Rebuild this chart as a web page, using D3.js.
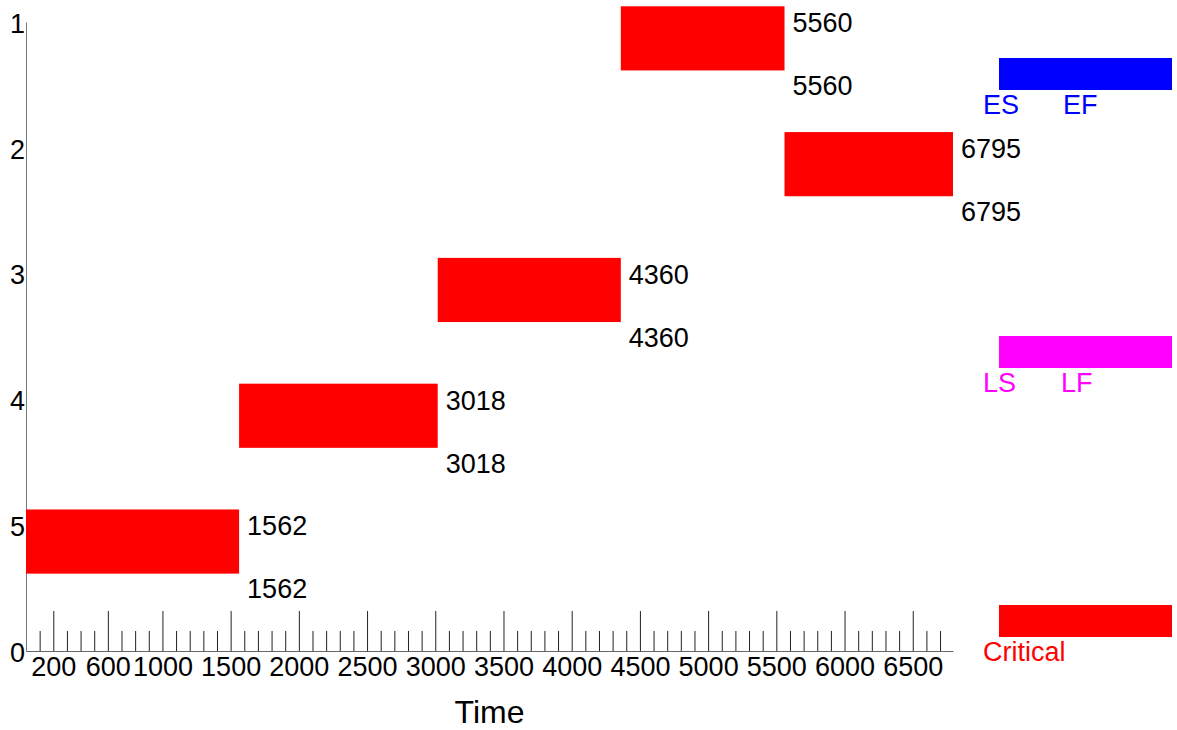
<!DOCTYPE html>
<html>
<head>
<meta charset="utf-8">
<script src="https://cdn.jsdelivr.net/npm/d3@7"></script>
<style>
  html, body { margin: 0; padding: 0; background: #fff; }
  svg { display: block; font-family: "Liberation Sans", Arial, sans-serif; }
</style>
</head>
<body>
<svg id="chart" width="1177" height="730"></svg>
<script>
// ---- data ----
const tasks = ["1", "2", "3", "4", "5"];
const earlyStart = [4360, 5560, 3018, 1562, 0];
const earlyFinish = [5560, 6795, 4360, 3018, 1562];
const lateStart = [4360, 5560, 3018, 1562, 0];
const lateFinish = [5560, 6795, 4360, 3018, 1562];
const critical = [true, true, true, true, true];
const rowOrder = ["0", "5", "4", "3", "2", "1"];
const majorTicks = [200, 600, 1000, 1500, 2000, 2500, 3000, 3500, 4000, 4500, 5000, 5500, 6000, 6500];
const minorTicks = d3.range(100, 6800, 100).filter(v => !majorTicks.includes(v));
const legendItems = [
  { color: "#0000ff", labels: ["ES", "EF"] },
  { color: "#ff00ff", labels: ["LS", "LF"] },
  { color: "#ff0000", labels: ["Critical"] }
];

// ---- layout ----
const svg = d3.select("#chart");
const FONT = 27;
const x = d3.scaleLinear().domain([0, 6795]).range([26, 953]);
const y = d3.scalePoint().domain(rowOrder).range([651, 22]);
const step = y.step();

// minor ticks
svg.append("g")
  .attr("transform", "translate(0,651)")
  .call(d3.axisBottom(x).tickValues(minorTicks).tickSizeInner(-20).tickSizeOuter(0).tickFormat(""))
  .call(g => g.select(".domain").remove())
  .call(g => g.selectAll("line").attr("stroke", "#222"));

// major ticks + labels
svg.append("g")
  .attr("transform", "translate(0,651)")
  .call(d3.axisBottom(x).tickValues(majorTicks).tickSizeInner(-40).tickSizeOuter(0).tickPadding(6)
    .tickFormat(d3.format("d")))
  .call(g => g.select(".domain").attr("stroke", "#666"))
  .call(g => g.selectAll("line").attr("stroke", "#222"))
  .call(g => g.selectAll("text").attr("font-size", FONT).attr("fill", "#000")
    .attr("font-family", "Liberation Sans, Arial, sans-serif"));

// y axis
svg.append("g")
  .attr("transform", "translate(26,0)")
  .call(d3.axisLeft(y).tickSize(0).tickPadding(1))
  .call(g => g.select(".domain").attr("stroke", "#777"))
  .call(g => g.selectAll("text").attr("font-size", FONT).attr("fill", "#000").attr("dy", "0.38em")
    .attr("font-family", "Liberation Sans, Arial, sans-serif"));

// bars
const rows = tasks.map((t, i) => ({
  t, es: earlyStart[i], ef: earlyFinish[i], ls: lateStart[i], lf: lateFinish[i], crit: critical[i]
}));

svg.append("g").selectAll("rect").data(rows).join("rect")
  .attr("x", d => x(d.es))
  .attr("width", d => x(d.ef) - x(d.es))
  .attr("y", d => y(d.t) - step / 8)
  .attr("height", step * 0.51)
  .attr("fill", d => d.crit ? "#ff0000" : "#0000ff");

const lbl = svg.append("g").attr("font-size", FONT).attr("fill", "#000");
lbl.selectAll("text.ef").data(rows).join("text").attr("class", "ef")
  .attr("x", d => x(d.ef) + 8)
  .attr("y", d => y(d.t))
  .attr("dy", "0.38em")
  .text(d => d.ef);
lbl.selectAll("text.lf").data(rows).join("text").attr("class", "lf")
  .attr("x", d => x(d.lf) + 8)
  .attr("y", d => y(d.t) + step / 2)
  .attr("dy", "0.38em")
  .text(d => d.lf);

// x title
svg.append("text")
  .attr("x", (x.range()[0] + x.range()[1]) / 2)
  .attr("y", 711)
  .attr("dy", "0.36em")
  .attr("text-anchor", "middle")
  .attr("font-size", 32)
  .attr("fill", "#000")
  .text("Time");

// legend
const legendTops = [58, 336, 605];
const legendTextX = [[983, 1063], [983, 1061], [983]];
const lg = svg.append("g");
legendItems.forEach((item, i) => {
  lg.append("rect")
    .attr("x", 999).attr("y", legendTops[i])
    .attr("width", 173).attr("height", 32)
    .attr("fill", item.color);
  item.labels.forEach((s, j) => {
    lg.append("text")
      .attr("x", legendTextX[i][j])
      .attr("y", legendTops[i] + 46)
      .attr("dy", "0.36em")
      .attr("font-size", FONT)
      .attr("fill", item.color)
      .text(s);
  });
});
</script>
</body>
</html>
